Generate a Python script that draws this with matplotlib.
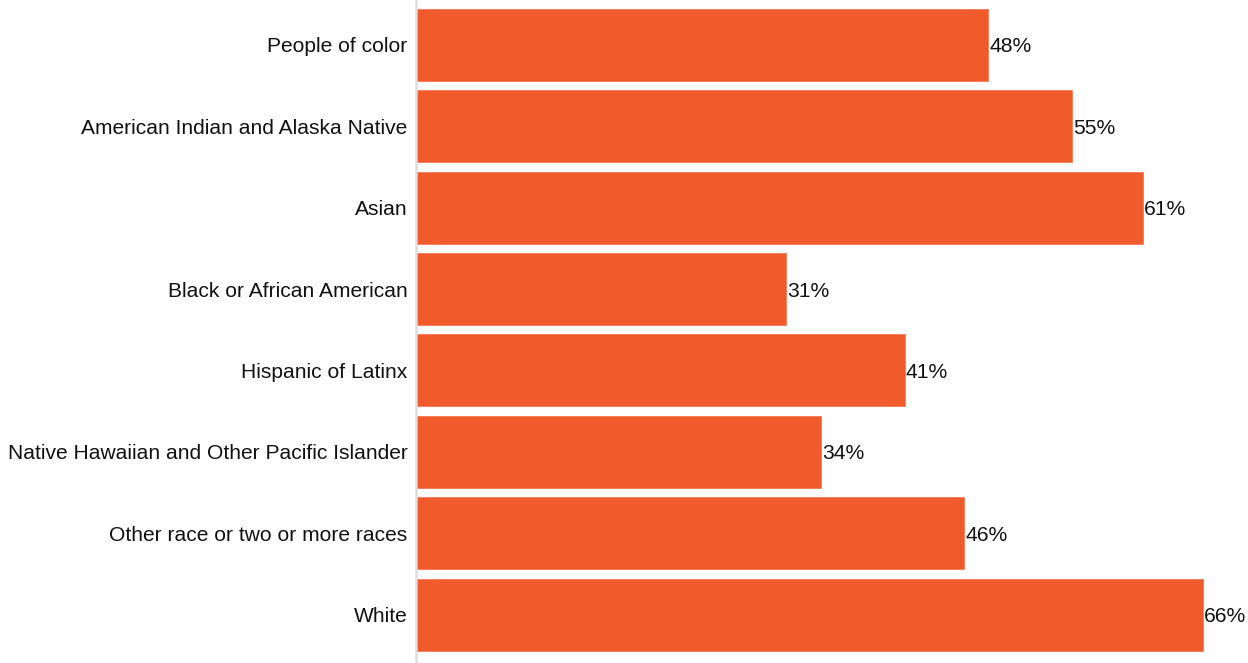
import matplotlib
matplotlib.use("Agg")
import matplotlib.pyplot as plt

categories = [
    "People of color",
    "American Indian and Alaska Native",
    "Asian",
    "Black or African American",
    "Hispanic of Latinx",
    "Native Hawaiian and Other Pacific Islander",
    "Other race or two or more races",
    "White",
]
values = [48, 55, 61, 31, 41, 34, 46, 66]

BAR_COLOR = "#F15A2B"

plt.rcParams["font.family"] = ["Liberation Sans", "DejaVu Sans"]

fig = plt.figure(figsize=(12.48, 6.63), dpi=100)
ax = fig.add_axes([416 / 1248, 0, 832 / 1248, 1])

pos = list(range(len(categories)))
ax.barh(pos, values, height=0.885, color=BAR_COLOR, edgecolor="#F47A55", linewidth=0.6)

for y, v in zip(pos, values):
    ax.text(v + 0.1, y, "%d%%" % v, va="center_baseline", ha="left",
            fontsize=15.2, color="#111111")

ax.set_xlim(0, 69.8)
ax.set_ylim(7.596, -0.553)
ax.set_yticks(pos)
ax.set_yticklabels(categories, fontsize=15.1, color="#111111")
ax.tick_params(axis="y", length=0, pad=6)
ax.set_xticks([])
for s in ["top", "right", "bottom"]:
    ax.spines[s].set_visible(False)
ax.spines["left"].set_color("#DDDDDD")
ax.spines["left"].set_linewidth(1.8)

fig.savefig("out.png", dpi=100)
